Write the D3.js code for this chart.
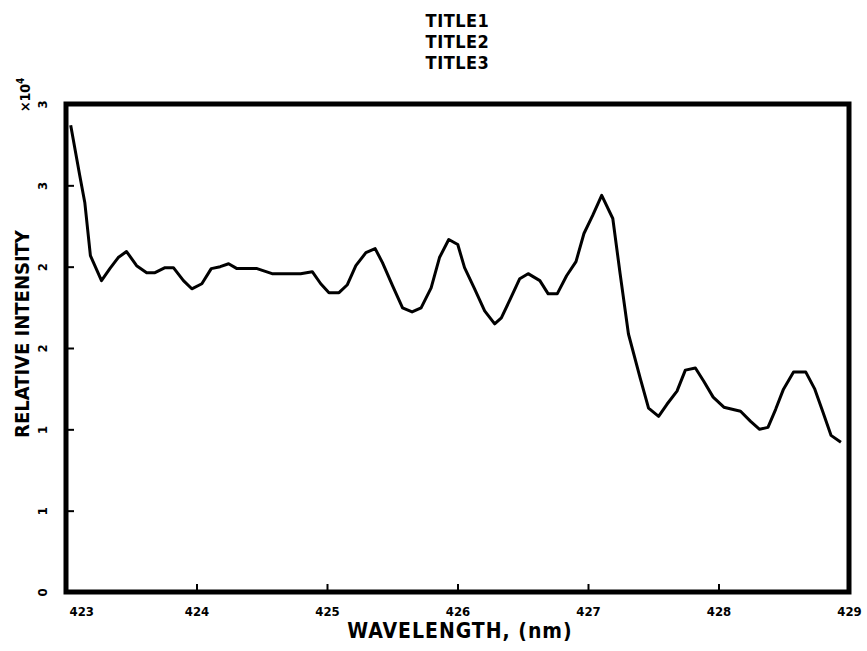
<!DOCTYPE html>
<html lang="en">
<head>
    <meta charset="UTF-8">
    <title>Relative intensity vs wavelength</title>
    <script src="https://d3js.org/d3.v7.min.js"></script>
    <style>
        body { margin: 0; background: #fff; }
        svg { display: block; }
        text { font-family: "DejaVu Sans Condensed", "DejaVu Sans", sans-serif; font-weight: bold; fill: #000; }
    </style>
</head>
<body>
    <svg width="867" height="651"></svg>

    <script>
        // data (intensity in units of 10^4)
        const wavelength = [
            423.036, 423.105, 423.144, 423.187, 423.272, 423.336, 423.400, 423.464, 423.541, 423.618,
            423.682, 423.759, 423.823, 423.900, 423.964, 424.041, 424.113, 424.182, 424.246, 424.310,
            424.387, 424.464, 424.579, 424.682, 424.798, 424.887, 424.952, 425.015, 425.092, 425.156,
            425.221, 425.298, 425.369, 425.425, 425.502, 425.579, 425.652, 425.721, 425.798, 425.862,
            425.933, 426.002, 426.054, 426.131, 426.208, 426.285, 426.336, 426.405, 426.477, 426.541,
            426.631, 426.695, 426.764, 426.836, 426.908, 426.969, 427.036, 427.105, 427.190, 427.246,
            427.310, 427.400, 427.464, 427.541, 427.605, 427.682, 427.746, 427.823, 427.887, 427.959,
            428.041, 428.169, 428.246, 428.315, 428.379, 428.438, 428.498, 428.575, 428.669, 428.738,
            428.798, 428.862, 428.938
        ];
        const intensity = [
            2.870, 2.562, 2.395, 2.068, 1.914, 1.988, 2.056, 2.093, 2.006, 1.963,
            1.963, 1.994, 1.994, 1.914, 1.864, 1.895, 1.988, 2.000, 2.018, 1.988,
            1.988, 1.988, 1.957, 1.957, 1.957, 1.969, 1.895, 1.840, 1.840, 1.889,
            2.006, 2.086, 2.111, 2.025, 1.883, 1.747, 1.722, 1.747, 1.870, 2.056,
            2.167, 2.136, 1.994, 1.864, 1.728, 1.648, 1.685, 1.802, 1.926, 1.957,
            1.914, 1.833, 1.833, 1.944, 2.031, 2.204, 2.315, 2.438, 2.296, 1.957,
            1.586, 1.315, 1.130, 1.080, 1.154, 1.235, 1.364, 1.377, 1.296, 1.198,
            1.136, 1.111, 1.049, 1.000, 1.012, 1.123, 1.247, 1.352, 1.352, 1.247,
            1.111, 0.963, 0.920
        ];
        const xTicks = [423, 424, 425, 426, 427, 428, 429];
        const yTicks = [0, 0.5, 1, 1.5, 2, 2.5, 3];
        const titles = ["TITLE1", "TITLE2", "TITLE3"];

        const svg = d3.select("svg");
        const mLeft = 66, mRight = 849, mTop = 104, mBottom = 592;

        const x = d3.scaleLinear().domain([423, 429]).range([mLeft, mRight]);
        const y = d3.scaleLinear().domain([0, 3]).range([mBottom, mTop]);

        // titles
        svg.selectAll(".title")
            .data(titles)
            .enter().append("text")
            .attr("class", "title")
            .attr("x", (mLeft + mRight) / 2)
            .attr("y", (d, i) => 27 + i * 21)
            .attr("text-anchor", "middle")
            .attr("font-size", 18)
            .attr("letter-spacing", 0.5)
            .text(d => d);

        // bottom axis, ticks pointing inward
        const xAxis = svg.append("g")
            .attr("transform", `translate(0,${mBottom})`)
            .call(d3.axisBottom(x).tickValues(xTicks).tickFormat(d3.format("d"))
                .tickSizeInner(-8).tickSizeOuter(0).tickPadding(15));
        xAxis.select(".domain").remove();
        xAxis.selectAll(".tick line").attr("stroke", "#000").attr("stroke-width", 2);
        xAxis.selectAll(".tick text")
            .attr("font-size", 13)
            .attr("font-family", "DejaVu Sans Condensed, DejaVu Sans, sans-serif")
            .attr("font-weight", "bold")
            .attr("text-anchor", (d, i) => i === 0 ? "start" : "middle")
            .attr("dx", (d, i) => i === 0 ? 3 : 0);

        // left axis, labels rotated
        const yAxis = svg.append("g")
            .attr("transform", `translate(${mLeft},0)`)
            .call(d3.axisLeft(y).tickValues(yTicks).tickFormat(d3.format(".0f")).tickSizeInner(-8).tickSizeOuter(0));
        yAxis.select(".domain").remove();
        yAxis.selectAll(".tick line").attr("stroke", "#000").attr("stroke-width", 2);
        yAxis.selectAll(".tick text")
            .attr("font-size", 13)
            .attr("font-family", "DejaVu Sans Condensed, DejaVu Sans, sans-serif")
            .attr("font-weight", "bold")
            .attr("x", null)
            .attr("text-anchor", "middle")
            .attr("transform", "translate(-24,0) rotate(-90)")
            .attr("dy", "0.35em");

        // frame
        svg.append("rect")
            .attr("x", mLeft).attr("y", mTop)
            .attr("width", mRight - mLeft).attr("height", mBottom - mTop)
            .attr("fill", "none")
            .attr("stroke", "#000")
            .attr("stroke-width", 5);

        // spectrum
        const line = d3.line()
            .x((d, i) => x(wavelength[i]))
            .y(d => y(d));

        svg.append("path")
            .datum(intensity)
            .attr("fill", "none")
            .attr("stroke", "#000")
            .attr("stroke-width", 3)
            .attr("stroke-linejoin", "round")
            .attr("d", line);

        // axis titles
        svg.append("text")
            .attr("x", 460)
            .attr("y", 638)
            .attr("text-anchor", "middle")
            .attr("font-size", 21)
            .attr("letter-spacing", 1)
            .attr("font-family", "DejaVu Sans, sans-serif")
            .text("WAVELENGTH, (nm)");

        svg.append("text")
            .attr("transform", `translate(29,${(mTop + mBottom) / 2 - 14}) rotate(-90)`)
            .attr("text-anchor", "middle")
            .attr("font-size", 20)
            .attr("font-family", "DejaVu Sans, sans-serif")
            .text("RELATIVE INTENSITY");

        const mult = svg.append("text")
            .attr("transform", "translate(30,112) rotate(-90)")
            .attr("text-anchor", "start")
            .attr("font-size", 14);
        mult.append("tspan").text("\u00d710");
        mult.append("tspan").attr("dy", -6).attr("font-size", 10).text("4");
    </script>
</body>
</html>
